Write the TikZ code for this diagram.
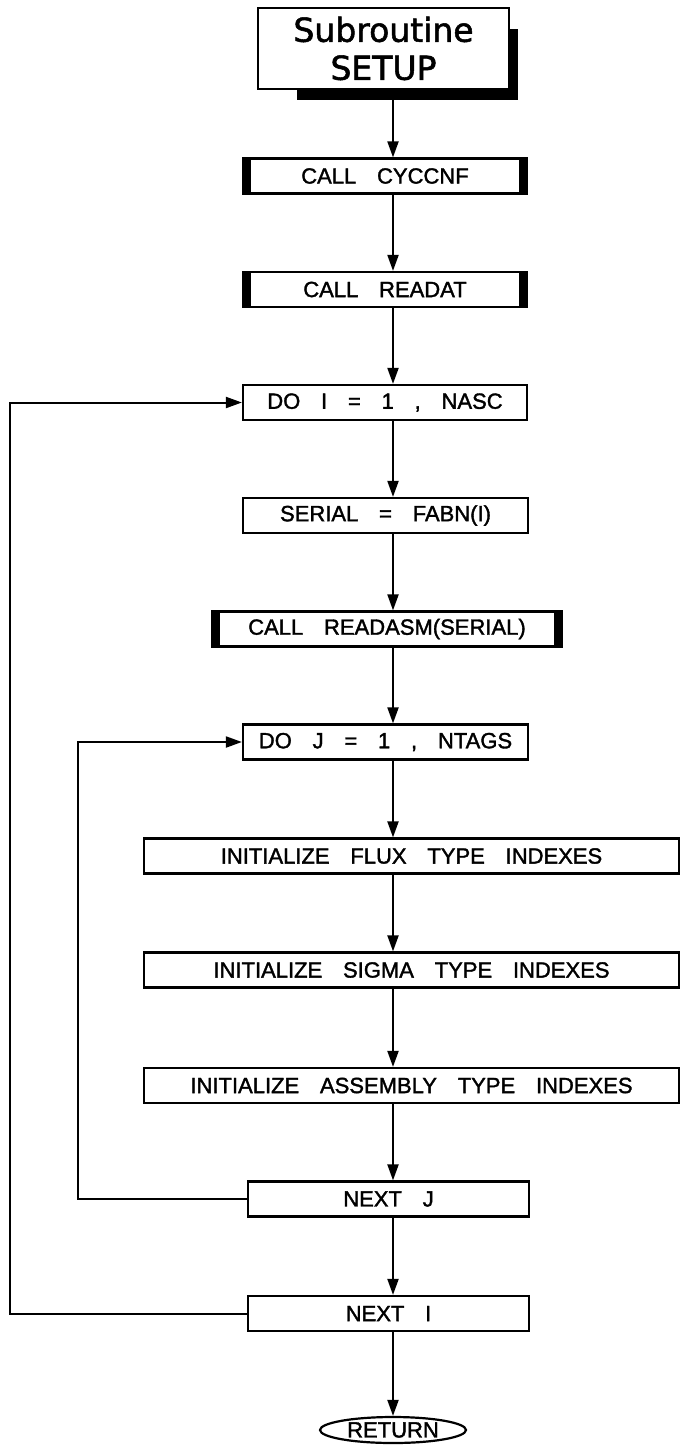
\documentclass[tikz,border=0pt]{standalone}
\usepackage{fontspec}
\setmainfont{Liberation Sans}[WordSpace=3.4, FakeBold=1.6]
\newfontfamily\titlefont{DejaVu Sans}[FakeBold=1.6]
\usepackage{tikz}
\usetikzlibrary{
  arrows.meta,
  positioning,
  shapes.geometric,
  shadows
}

\begin{document}
\begin{tikzpicture}[
      x=1pt, y=-1pt,
      >={Triangle[length=16pt,width=11pt]},
      every node/.style={font=\fontsize{22}{24}\selectfont},
      stepbox/.style={draw, line width=2.2pt, fill=white, inner sep=0pt,
                      minimum height=35pt},
      callbox/.style={stepbox, path picture={
          \fill[black] (path picture bounding box.south west) rectangle
                ([xshift=8pt]path picture bounding box.north west);
          \fill[black] (path picture bounding box.south east) rectangle
                ([xshift=-8pt]path picture bounding box.north east);}},
      flow/.style={->, line width=2pt}
  ]
      \useasboundingbox (0,0) rectangle (681,1455);
      \coordinate (axis) at (393,0);
      \coordinate (loopI) at (10,0);
      \coordinate (loopJ) at (78,0);

      % Titulo com sombra
      \node[draw, line width=2.6pt, fill=white, minimum width=251pt,
            minimum height=81pt, align=center,
            font=\titlefont\fontsize{33}{38}\selectfont,
            general shadow={fill=black, shadow xshift=27.5pt,
                            shadow yshift=-18pt, shadow scale=0.88}]
            (title) at (383.5,48.5) {Subroutine\\SETUP};

      % Caixas do fluxo
      \node[callbox, minimum width=284pt] (cyccnf) at (385,176) {CALL CYCCNF};
      \node[callbox, minimum width=284pt] (readat) at (385,289.5) {CALL READAT};
      \node[stepbox, minimum width=284pt] (doI) at (385,402.5) {DO I = 1 , NASC};
      \node[stepbox, minimum width=285pt] (serial) at (385.5,515.5) {SERIAL = FABN(I)};
      \node[callbox, minimum width=350pt] (readasm) at (387,629) {CALL READASM(SERIAL)};
      \node[stepbox, minimum width=285pt] (doJ) at (385.5,742) {DO J = 1 , NTAGS};
      \node[stepbox, minimum width=535pt] (flux) at (411.5,856) {INITIALIZE FLUX TYPE INDEXES};
      \node[stepbox, minimum width=535pt] (sigma) at (411.5,970) {INITIALIZE SIGMA TYPE INDEXES};
      \node[stepbox, minimum width=535pt] (assembly) at (411.5,1085.5) {INITIALIZE ASSEMBLY TYPE INDEXES};
      \node[stepbox, minimum width=281pt] (nextJ) at (388.5,1199) {NEXT J};
      \node[stepbox, minimum width=281pt] (nextI) at (388.5,1313.5) {NEXT I};
      \node[draw, ellipse, line width=2.2pt, inner sep=0pt, minimum width=146pt,
            minimum height=26pt] (ret) at (393,1430) {RETURN};

      % Setas verticais
      \draw[flow] (title.south -| axis) -- (cyccnf.north -| axis);
      \draw[flow] (cyccnf.south -| axis) -- (readat.north -| axis);
      \draw[flow] (readat.south -| axis) -- (doI.north -| axis);
      \draw[flow] (doI.south -| axis) -- (serial.north -| axis);
      \draw[flow] (serial.south -| axis) -- (readasm.north -| axis);
      \draw[flow] (readasm.south -| axis) -- (doJ.north -| axis);
      \draw[flow] (doJ.south -| axis) -- (flux.north -| axis);
      \draw[flow] (flux.south -| axis) -- (sigma.north -| axis);
      \draw[flow] (sigma.south -| axis) -- (assembly.north -| axis);
      \draw[flow] (assembly.south -| axis) -- (nextJ.north -| axis);
      \draw[flow] (nextJ.south -| axis) -- (nextI.north -| axis);
      \draw[flow] (nextI.south -| axis) -- (ret.north -| axis);

      % Lacos de retorno
      \draw[flow] (nextJ.west) -- (nextJ.west -| loopJ) -- (doJ.west -| loopJ) -- (doJ.west);
      \draw[flow] (nextI.west) -- (nextI.west -| loopI) -- (doI.west -| loopI) -- (doI.west);
  \end{tikzpicture}
\end{document}
